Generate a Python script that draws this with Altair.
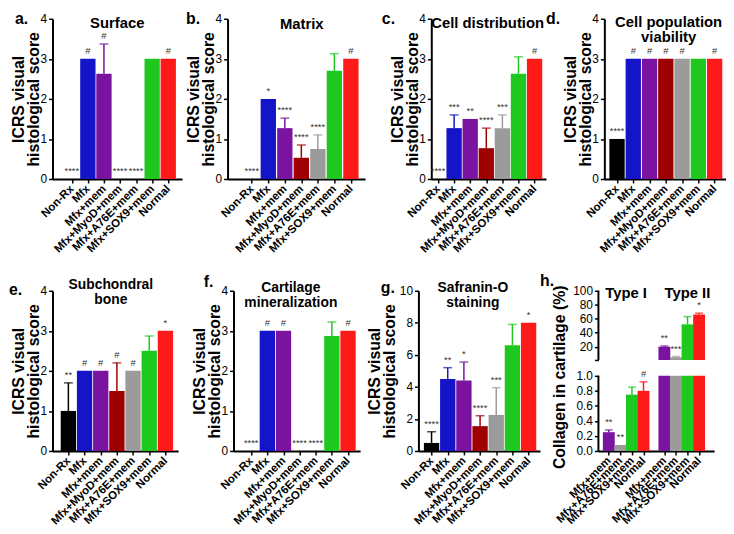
import altair as alt
import pandas as pd

FONT = "Liberation Sans"

# ---------------- data ----------------
categories = ["Non-Rx", "Mfx", "Mfx+mem", "Mfx+MyoD+mem", "Mfx+A76E+mem", "Mfx+SOX9+mem", "Normal"]
bar_colors = ["#000000", "#1414c8", "#7a14a0", "#9e0000", "#9b9b9b", "#1fc81f", "#ff1a1a"]

surface_mean = [0, 3, 2.63, 0, 0, 3, 3]
surface_err = [0, 0, 0.74, 0, 0, 0, 0]
surface_sig = ["****", "#", "#", "****", "****", "", "#"]

matrix_mean = [0, 2.0, 1.27, 0.53, 0.75, 2.7, 3.0]
matrix_err = [0, 0, 0.25, 0.32, 0.35, 0.43, 0]
matrix_sig = ["****", "*", "****", "****", "****", "", "#"]

celldist_mean = [0, 1.27, 1.5, 0.77, 1.27, 2.63, 3.0]
celldist_err = [0, 0.33, 0, 0.5, 0.33, 0.42, 0]
celldist_sig = ["****", "***", "**", "****", "***", "", "#"]

viab_mean = [1, 3, 3, 3, 3, 3, 3]
viab_err = [0, 0, 0, 0, 0, 0, 0]
viab_sig = ["****", "#", "#", "#", "#", "", "#"]

subch_mean = [1, 2, 2, 1.5, 2, 2.5, 3]
subch_err = [0.7, 0, 0, 0.7, 0, 0.37, 0]
subch_sig = ["**", "#", "#", "#", "#", "", "*"]

miner_mean = [0, 3, 3, 0, 0, 2.87, 3]
miner_err = [0, 0, 0, 0, 0, 0.35, 0]
miner_sig = ["****", "#", "#", "****", "****", "", "#"]

safo_mean = [0.5, 4.5, 4.4, 1.55, 2.25, 6.6, 8.0]
safo_err = [0.7, 0.7, 1.15, 0.65, 1.7, 1.3, 0]
safo_sig = ["****", "**", "*", "****", "***", "", "*"]

h_cats = ["Mfx+mem", "Mfx+A76E+mem", "Mfx+SOX9+mem", "Normal"]
h_colors = ["#7a14a0", "#9b9b9b", "#1fc81f", "#ff1a1a"]
typeI_mean = [0.25, 0.08, 0.75, 0.80]
typeI_err = [0.03, 0.0, 0.10, 0.12]
typeI_sig = ["**", "**", "", "#"]
typeII_mean = [20, 5, 52, 66]
typeII_err = [1, 1, 11, 2]
typeII_sig = ["**", "***", "", "*"]

H = 162
X_LABEL = dict(labelAngle=315, labelAlign="right", labelBaseline="middle",
               labelFontSize=11.5, labelFontWeight="bold", labelPadding=4,
               labelOverlap=False, labelFlush=False, labelBound=False)


def text_layer(txt, x, y, size, weight="bold", align="center", baseline="alphabetic",
               lh=13, opacity=1.0):
    return alt.Chart(pd.DataFrame({"t": [txt]})).mark_text(
        fontSize=size, fontWeight=weight, align=align, baseline=baseline,
        lineBreak="\n", lineHeight=lh, color="#000", opacity=opacity
    ).encode(x=alt.value(x), y=alt.value(y), text="t:N")


def panel(mean, err, sig, title, letter, width, domain, ymax, yticks, title_xpos,
          title_x, title_y, title_size, title_lh, letter_x, letter_y, anchor_x, anchor_y):
    df = pd.DataFrame({
        "pos": list(range(len(categories))),
        "mean": mean,
        "top": [m + e for m, e in zip(mean, err)],
        "sig": sig,
        "color": bar_colors,
    })
    label_expr = "[" + ",".join("'%s'" % c for c in categories) + "][datum.value]"
    xenc = alt.X("pos:Q", scale=alt.Scale(domain=domain, nice=False, zero=False),
                 axis=alt.Axis(values=list(range(len(categories))), labelExpr=label_expr,
                               title=None, **X_LABEL))
    yaxis = alt.Axis(values=yticks, title=["ICRS visual", "histological score"],
                     titleFontSize=16, titleFontWeight="bold", titleLineHeight=15,
                     titleX=title_xpos, titleBaseline="bottom", labelFontSize=12)

    def Y(f):
        return alt.Y(f + ":Q", scale=alt.Scale(domain=[0, ymax], nice=False), axis=yaxis)

    base = alt.Chart(df)
    bars = base.mark_bar(size=15.5).encode(x=xenc, y=Y("mean"),
                                           color=alt.Color("color:N", scale=None))
    errs = base.transform_filter("datum.top > datum.mean")
    rules = errs.mark_rule(strokeWidth=1.5).encode(
        x=xenc, y=Y("mean"), y2="top:Q", color=alt.Color("color:N", scale=None))
    caps = errs.mark_tick(orient="horizontal", size=9, thickness=1.5).encode(
        x=xenc, y=Y("top"), color=alt.Color("color:N", scale=None))
    labels = base.mark_text(baseline="bottom", dy=-3, fontSize=9.5, color="#333").encode(
        x=xenc, y=Y("top"), text="sig:N")
    ttl = text_layer(title, title_x, title_y, title_size, lh=title_lh)
    let = text_layer(letter, letter_x, letter_y, 16, align="left")
    anc = text_layer(".", anchor_x, anchor_y, 2, align="left", baseline="top", opacity=0)
    return alt.layer(bars, rules, caps, labels, ttl, let, anc).properties(width=width, height=H)


T4 = [0, 1, 2, 3, 4]
a = panel(surface_mean, surface_err, surface_sig, "Surface", "a.", 131, [-0.892, 6.551], 4,
          T4, -26, 65.5, 9, 15, 13, -38, 5, -41, -8)
b = panel(matrix_mean, matrix_err, matrix_sig, "Matrix", "b.", 139, [-1.167, 6.556], 4,
          T4, -26, 75, 10, 15, 13, -42, 5, -46, -8)
c = panel(celldist_mean, celldist_err, celldist_sig, "Cell distribution", "c.", 116,
          [-0.112, 6.404], 4, T4, -26, 57, 9, 15, 13, -50, 5, -67, -8)
d = panel(viab_mean, viab_err, viab_sig, "Cell population\nviability", "d.", 123,
          [-0.475, 6.397], 4, T4, -26, 65, 8, 15, 15, -59, 5, -59, -8)

e = panel(subch_mean, subch_err, subch_sig, "Subchondral\nbone", "e.", 127, [-0.676, 6.479], 4,
          T4, -26, 59, -2, 14, 15, -44, 4, -47, -18)
f = panel(miner_mean, miner_err, miner_sig, "Cartilage\nmineralization", "f.", 128,
          [-0.791, 6.441], 4, T4, -26, 58, 1, 14, 15, -30, -4, -56, -18)
g = panel(safo_mean, safo_err, safo_sig, "Safranin-O\nstaining", "g.", 123, [-0.506, 6.404], 10,
          [0, 2, 4, 6, 8, 10], -36, 55, 1, 14, 15, -38, 2, -59, -18)

# ---------------- panel h (broken axis) ----------------
G2 = 4.8          # position offset of the Type II group
BREAK_LO, BREAK_HI = 1.0, 1.0001
rows = []
for grp, means, errs_, sigs, off in [("I", typeI_mean, typeI_err, typeI_sig, 0),
                                     ("II", typeII_mean, typeII_err, typeII_sig, G2)]:
    for i, (m, er, s) in enumerate(zip(means, errs_, sigs)):
        rows.append({"pos": i + off, "mean": m, "lo_top": min(m, BREAK_LO), "top": m + er,
                     "sig": s, "color": h_colors[i], "upper": m > BREAK_LO})
hdf = pd.DataFrame(rows)
hpos = list(hdf["pos"])
arr = "[" + ",".join("'%s'" % c for c in h_cats) + "]"
h_label_expr = "datum.value < 4 ? %s[datum.value] : %s[round(datum.value - %s)]" % (arr, arr, G2)
hx = alt.X("pos:Q", scale=alt.Scale(domain=[-0.469, 8.672], nice=False, zero=False),
           axis=alt.Axis(values=hpos, labelExpr=h_label_expr, title=None, **X_LABEL))
hy_axis = alt.Axis(values=[0, 0.2, 0.4, 0.6, 0.8, 1.0, BREAK_HI, 20, 40, 60, 80, 100],
                   labelExpr="datum.value <= 1 ? format(datum.value, '.1f') : "
                             "(datum.value < 10 ? '' : format(datum.value, 'd'))",
                   domain=False, title="Collagen in cartilage (%)", titleFontSize=16,
                   titleFontWeight="bold", titleX=-31, titleBaseline="bottom", titleY=87,
                   labelFontSize=12, labelOverlap=False)
hscale = alt.Scale(domain=[0, BREAK_LO, BREAK_HI, 100], range=[H, 86, 70, 0], nice=False,
                   zero=False)


def HY(f):
    return alt.Y(f + ":Q", scale=hscale, axis=hy_axis)


hbase = alt.Chart(hdf)
h_low = hbase.mark_bar(size=12).encode(x=hx, y=HY("lo_top"), y2=alt.datum(0),
                                        color=alt.Color("color:N", scale=None))
h_up = hbase.transform_filter("datum.upper").mark_bar(size=12).encode(
    x=hx, y=HY("mean"), y2=alt.datum(BREAK_HI), color=alt.Color("color:N", scale=None))
h_err = hbase.transform_filter("datum.top > datum.mean")
h_rule = h_err.mark_rule(strokeWidth=1.5).encode(x=hx, y=HY("mean"), y2="top:Q",
                                                  color=alt.Color("color:N", scale=None))
h_cap = h_err.mark_tick(orient="horizontal", size=8, thickness=1.5).encode(
    x=hx, y=HY("top"), color=alt.Color("color:N", scale=None))
h_txt = hbase.mark_text(baseline="bottom", dy=-3, fontSize=9.5, color="#333").encode(
    x=hx, y=HY("top"), text="sig:N")
axis_segments = pd.DataFrame({"y0": [0, BREAK_HI], "y1": [BREAK_LO, 100]})
h_axisline = alt.Chart(axis_segments).mark_rule(color="#000", strokeWidth=2).encode(
    x=alt.value(0), y=HY("y0"), y2="y1:Q")
h = alt.layer(
    h_low, h_up, h_rule, h_cap, h_txt, h_axisline,
    text_layer("Type I", 28, 7, 15), text_layer("Type II", 90, 7, 15),
    text_layer("h.", -59, -5, 16, align="left"),
    text_layer(".", -59, -18, 2, align="left", baseline="top", opacity=0),
).properties(width=117, height=H)

row1 = alt.hconcat(a, b, c, d, spacing=0)
row2 = alt.hconcat(e, f, g, h, spacing=0)
chart = alt.vconcat(row1, row2, spacing=18).properties(
    padding={"left": -2, "top": 0, "right": 0, "bottom": 0}
).configure_view(
    stroke=None
).configure_axis(
    grid=False, domainColor="#000", domainWidth=2, tickColor="#000", tickWidth=1.5,
    tickSize=4, labelColor="#000", labelFont=FONT, titleFont=FONT, titleColor="#000",
    labelPadding=2
).configure_text(font=FONT)

chart.save("out.html", embed_options={"renderer": "svg", "actions": False})
